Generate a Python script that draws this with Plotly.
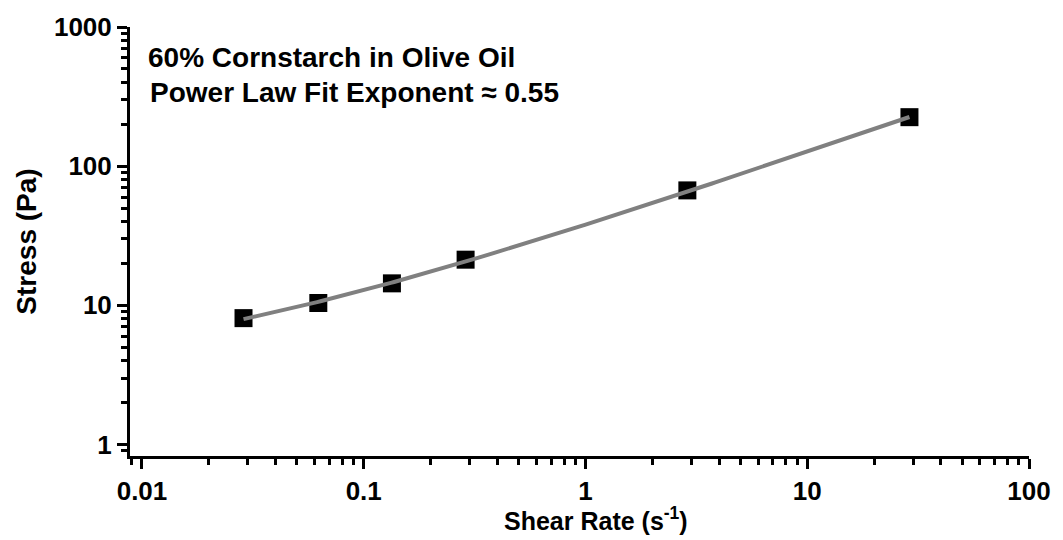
import numpy as np
import plotly.graph_objects as go

# Measured flow curve: 60% cornstarch suspended in olive oil
shear_rate = [0.0287, 0.0624, 0.134, 0.288, 2.88, 28.9]   # s^-1
stress = [8.1, 10.4, 14.4, 21.3, 67.0, 225.0]              # Pa

# Yield-stress power-law fit: stress = tau0 + K * rate^n
fit_tau0 = 3.0
fit_K = 35.0
fit_n = 0.55

x_tick_vals = [0.01, 0.1, 1, 10, 100]
x_tick_text = ["0.01", "0.1", "1", "10", "100"]
y_tick_vals = [1, 10, 100, 1000]
y_tick_text = ["1", "10", "100", "1000"]

title_lines = ["60% Cornstarch in Olive Oil", "Power Law Fit Exponent \u2248 0.55"]
x_title = "Shear Rate (s<sup>-1</sup>)"
y_title = "Stress (Pa)"

rate_fit = np.logspace(np.log10(shear_rate[0]), np.log10(shear_rate[-1]), 200)
stress_fit = fit_tau0 + fit_K * rate_fit ** fit_n

FONT = "Liberation Sans, Arial, Helvetica, sans-serif"

fig = go.Figure()
fig.add_trace(go.Scatter(
    x=shear_rate, y=stress, mode="markers",
    marker=dict(symbol="square", size=18, color="black", line=dict(width=0)),
    showlegend=False,
))
fig.add_trace(go.Scatter(
    x=rate_fit, y=stress_fit, mode="lines",
    line=dict(color="#808080", width=4),
    showlegend=False,
))

axis_common = dict(
    type="log",
    showgrid=False,
    zeroline=False,
    showline=True,
    linecolor="black",
    linewidth=3,
    ticks="outside",
    ticklen=10,
    tickwidth=2.5,
    tickcolor="black",
    tickmode="array",
    tickfont=dict(family=FONT, size=26, color="black", weight="bold"),
    minor=dict(ticks="outside", ticklen=6, tickwidth=2.5, tickcolor="black",
               dtick="D1", showgrid=False),
)

fig.update_layout(
    width=1063, height=540,
    margin=dict(l=130, r=30, t=24, b=84),
    paper_bgcolor="white", plot_bgcolor="white",
    font=dict(family=FONT, color="black", weight="bold"),
    xaxis=dict(
        axis_common,
        range=[-2.054, 2.0],
        tickvals=x_tick_vals, ticktext=x_tick_text,
    ),
    yaxis=dict(
        axis_common,
        range=[-0.082, 3.0],
        tickvals=y_tick_vals, ticktext=y_tick_text,
        title=dict(text=y_title,
                   font=dict(family=FONT, size=28, color="black", weight="bold"),
                   standoff=10),
    ),
)

# x-axis title, placed just under the tick labels
fig.add_annotation(
    text=x_title, xref="paper", yref="paper",
    x=0.518, y=-0.146, xanchor="center", yanchor="middle",
    showarrow=False,
    font=dict(family=FONT, size=25, color="black", weight="bold"),
)

for i, (txt, ypos) in enumerate(zip(title_lines, [0.93, 0.848])):
    fig.add_annotation(
        text=txt, xref="paper", yref="paper",
        x=0.0177 + 0.002 * i, y=ypos, xanchor="left", yanchor="middle",
        showarrow=False,
        font=dict(family=FONT, size=28, color="black", weight="bold"),
    )

fig.write_html("out.html")
